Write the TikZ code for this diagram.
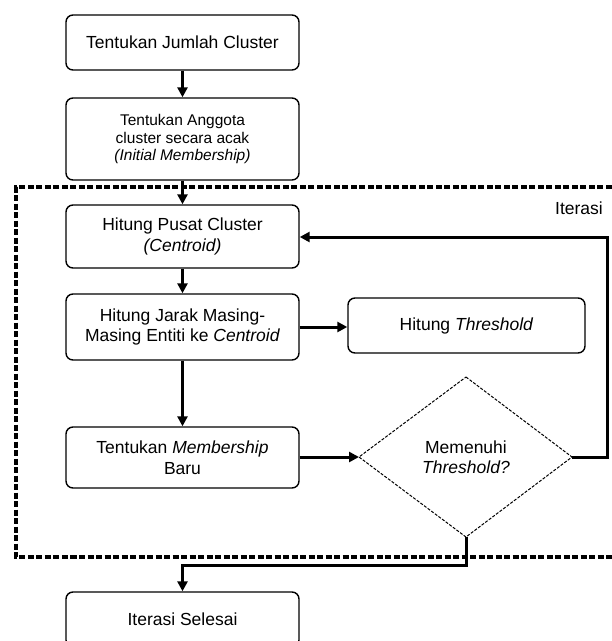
\documentclass[tikz,border=0pt]{standalone}
\usepackage{fontspec}
\setmainfont{Liberation Sans}
\usetikzlibrary{arrows.meta}
\begin{document}
\begin{tikzpicture}[x=1pt,y=-1pt,
  box/.style={draw, line width=1.4pt, rounded corners=7pt, minimum width=233pt, inner sep=0pt, align=center, font=\fontsize{17.5}{20.5}\selectfont},
  arr/.style={line width=3pt, -{Triangle[length=10pt,width=10pt]}},
  frame/.style={line width=3.4pt, dash pattern=on 6pt off 2.5pt},
  dia/.style={line width=1pt, dash pattern=on 3pt off 1.5pt},
  lbl/.style={align=center, inner sep=0pt, font=\fontsize{17.5}{20.5}\selectfont}]
\useasboundingbox (0,0) rectangle (612,641);
\clip (0,0) rectangle (612,641);
% iteration frame
\draw[frame] (620,187) -- (16,187) -- (16,557) -- (620,557);
\node[lbl, anchor=center] (iter) at (579,208) {Iterasi};
% boxes
\node[box, minimum height=55pt] (b1) at (182.5,42.5) {Tentukan Jumlah Cluster};
\node[box, minimum height=82pt, font=\fontsize{15.5}{17.5}\selectfont] (b2) at (182.5,139) {Tentukan Anggota\\cluster secara acak\\\textit{(Initial Membership)}};
\node[box, minimum height=63pt] (b3) at (182.5,236.5) {Hitung Pusat Cluster\\\textit{(Centroid)}};
\node[box, minimum height=66pt] (b4) at (182.5,327) {Hitung Jarak Masing-\\Masing Entiti ke \textit{Centroid}};
\node[box, minimum width=237pt, minimum height=55pt] (thr) at (466.5,325.5) {Hitung \textit{Threshold}};
\node[box, minimum height=61pt] (b5) at (182.5,457.5) {Tentukan \textit{Membership}\\Baru};
\node[box, minimum height=55pt] (b6) at (182.5,619.5) {Iterasi Selesai};
% decision
\coordinate (dT) at (466,377);
\coordinate (dL) at (359,457);
\coordinate (dR) at (572,457);
\coordinate (dB) at (466,537);
\draw[dia] (dT) -- (dR) -- (dB) -- (dL) -- cycle;
\node[lbl] (dtext) at (466,457) {Memenuhi\\\textit{Threshold?}};
% connectors
\draw[arr] (b1.south) -- (b2.north);
\draw[arr] (b2.south) -- (b3.north);
\draw[arr] (b3.south) -- (b4.north);
\draw[arr] (b4.east) -- (thr.west |- b4.east);
\draw[arr] (b4.south) -- (b5.north);
\draw[arr] (b5.east |- dL) -- (dL);
\draw[arr] (dR) -- (607,457) -- (607,237) -- (b3.east |- 0,237);
\draw[arr] (dB) -- (466,565) -- (182.5,565) -- (b6.north);
\end{tikzpicture}
\end{document}
